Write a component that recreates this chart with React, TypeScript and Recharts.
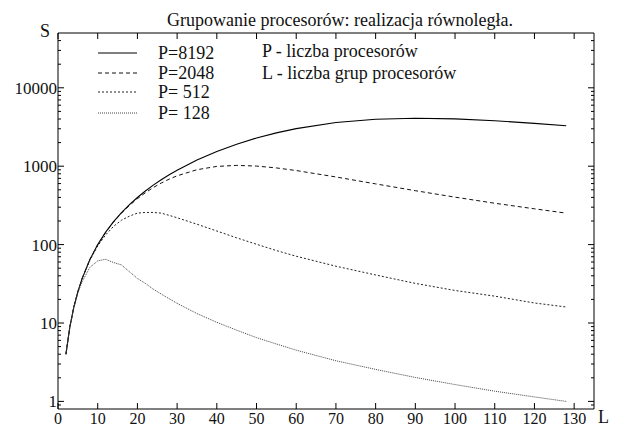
import { LineChart, Line, XAxis, YAxis } from 'recharts';

// L - liczba grup procesorów
const groups = [2, 3, 4, 5, 6, 8, 10, 12, 14, 16, 18, 20, 22, 24, 26, 28, 30, 35, 40, 45, 50, 55, 60, 70, 80, 90, 100, 110, 120, 128];

// S dla kolejnych P
const p8192 = [4, 9, 16, 25, 36, 64, 100, 144, 196, 256, 323, 399, 482, 573, 671, 777, 889, 1198, 1541, 1908, 2287, 2662, 3017, 3609, 3974, 4096, 4016, 3803, 3521, 3277];
const p2048 = [4, 9, 16, 25, 36, 64, 100, 143, 194, 252, 316, 385, 458, 534, 610, 684, 754, 902, 994, 1024, 1004, 951, 880, 729, 595, 487, 403, 337, 286, 252];
const p512 = [4, 9, 16, 25, 36, 63, 96, 133, 171, 205, 231, 252, 257, 257, 252, 236, 220, 182, 149, 122, 101, 84, 71, 53, 41, 32, 26, 22, 18, 16];
const p128 = [4, 9, 15.8, 24, 33, 51, 62, 65, 59, 55, 45, 37, 32, 27, 23.4, 20.4, 17.8, 13.2, 10.2, 8.1, 6.5, 5.4, 4.5, 3.3, 2.56, 2.02, 1.64, 1.35, 1.14, 1.0];

const xTicks = [0, 10, 20, 30, 40, 50, 60, 70, 80, 90, 100, 110, 120, 130];
const yMajor = [1, 10, 100, 1000, 10000];
const yMinor = [0.9, 2, 3, 4, 5, 6, 7, 8, 9, 20, 30, 40, 50, 60, 70, 80, 90, 200, 300, 400, 500, 600, 700, 800, 900,
  2000, 3000, 4000, 5000, 6000, 7000, 8000, 9000, 20000, 30000, 40000];

const series = [
  { key: 'p8192', label: 'P=8192', dash: undefined, color: '#000', width: 1.1 },
  { key: 'p2048', label: 'P=2048', dash: '4 3', color: '#111', width: 1 },
  { key: 'p512', label: 'P= 512', dash: '2 2', color: '#222', width: 1 },
  { key: 'p128', label: 'P= 128', dash: '1 1', color: '#444', width: 1 },
];

const data = groups.map((L, i) => ({ L, p8192: p8192[i], p2048: p2048[i], p512: p512[i], p128: p128[i] }));

const font = "'Liberation Serif', 'Times New Roman', serif";

const BottomTick = ({ x, y, payload }: any) => (
  <g>
    <line x1={x} y1={y} x2={x} y2={y - 6} stroke="#000" />
    <text x={x} y={y + 15} textAnchor="middle" fontSize={16} fontFamily={font} fill="#111">
      {payload.value}
    </text>
  </g>
);

const TopTick = ({ x, y }: any) => <line x1={x} y1={y} x2={x} y2={y + 6} stroke="#000" />;

const LeftTick = ({ x, y, payload }: any) => {
  const major = yMajor.includes(payload.value);
  return (
    <g>
      <line x1={x} y1={y} x2={x + (major ? 6 : 3)} y2={y} stroke="#000" />
      {major && (
        <text x={x - 1} y={y} dy="0.35em" textAnchor="end" fontSize={17} fontFamily={font} fill="#111">
          {payload.value}
        </text>
      )}
    </g>
  );
};

const RightTick = ({ x, y, payload }: any) => {
  const major = yMajor.includes(payload.value);
  return <line x1={x} y1={y} x2={x - (major ? 6 : 3)} y2={y} stroke="#000" />;
};

const legendY = [53, 73, 92, 113];

export default function App() {
  return (
    <div style={{ position: 'absolute', left: 0, top: 0, width: 620, height: 427, background: '#fff' }}>
      <LineChart width={620} height={427} data={data} margin={{ top: 32, right: 25, left: 0, bottom: 0 }}>
        <XAxis
          dataKey="L"
          type="number"
          domain={[0, 135]}
          ticks={xTicks}
          interval={0}
          allowDataOverflow
          height={18}
          tickSize={0}
          tickMargin={0}
          tickLine={false}
          axisLine={{ stroke: '#000' }}
          tick={<BottomTick />}
        />
        <XAxis
          xAxisId="top"
          dataKey="L"
          orientation="top"
          type="number"
          domain={[0, 135]}
          ticks={xTicks}
          interval={0}
          allowDataOverflow
          height={1}
          tickSize={0}
          tickMargin={0}
          tickLine={false}
          axisLine={{ stroke: '#000' }}
          tick={<TopTick />}
        />
        <YAxis
          scale="log"
          domain={[0.8, 50000]}
          ticks={[...yMajor, ...yMinor]}
          interval={0}
          allowDataOverflow
          width={58}
          tickSize={0}
          tickMargin={0}
          tickLine={false}
          axisLine={{ stroke: '#000' }}
          tick={<LeftTick />}
        />
        <YAxis
          yAxisId="right"
          orientation="right"
          scale="log"
          domain={[0.8, 50000]}
          ticks={[...yMajor, ...yMinor]}
          interval={0}
          allowDataOverflow
          width={1}
          tickSize={0}
          tickMargin={0}
          tickLine={false}
          axisLine={{ stroke: '#000' }}
          tick={<RightTick />}
        />
        {/* niewidoczna seria dla osi górnej i prawej (ramka) */}
        <Line
          xAxisId="top"
          yAxisId="right"
          dataKey="p8192"
          stroke="none"
          dot={false}
          activeDot={false}
          legendType="none"
          isAnimationActive={false}
        />
        {series.map((s) => (
          <Line
            key={s.key}
            type="linear"
            dataKey={s.key}
            stroke={s.color}
            strokeWidth={s.width}
            strokeDasharray={s.dash}
            dot={false}
            isAnimationActive={false}
          />
        ))}
      </LineChart>
      <svg width={620} height={427} style={{ position: 'absolute', left: 0, top: 0, pointerEvents: 'none' }}>
        <g fontFamily={font} fill="#111">
          <text x={340} y={26} textAnchor="middle" fontSize={18}>Grupowanie procesorów: realizacja równoległa.</text>
          <text x={45} y={37} textAnchor="middle" fontSize={18}>S</text>
          <text x={598} y={423} fontSize={18}>L</text>
          {series.map((s, i) => (
            <g key={s.key}>
              <line x1={98} x2={137} y1={legendY[i]} y2={legendY[i]} stroke={s.color} strokeWidth={s.width} strokeDasharray={s.dash} />
              <text x={158} y={legendY[i] + 6} fontSize={18}>{s.label}</text>
            </g>
          ))}
          <text x={262} y={57} fontSize={18}>P - liczba procesorów</text>
          <text x={262} y={79} fontSize={18}>L - liczba grup procesorów</text>
        </g>
      </svg>
    </div>
  );
}
